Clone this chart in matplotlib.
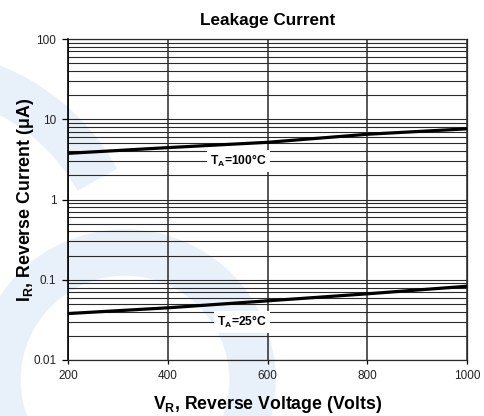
import matplotlib

matplotlib.use("Agg")
import matplotlib.pyplot as plt
from matplotlib.patches import Wedge
from matplotlib.ticker import FixedLocator, LogLocator, NullFormatter

plt.rcParams["font.family"] = ["Liberation Sans", "DejaVu Sans"]
plt.rcParams["mathtext.fontset"] = "custom"
plt.rcParams["mathtext.rm"] = "Liberation Sans"
plt.rcParams["mathtext.bf"] = "Liberation Sans:bold"

# Values (reverse voltage in volts, current in uA)
voltage = [200, 400, 600, 800, 1000]
current_100c = [3.76, 4.43, 5.16, 6.5, 7.6]
current_25c = [0.0379, 0.0447, 0.0546, 0.0668, 0.083]
x_ticks = [200, 400, 600, 800, 1000]
y_ticks = [0.01, 0.1, 1, 10, 100]
y_tick_labels = ["0.01", "0.1", "1", "10", "100"]

W, H = 484, 416
fig = plt.figure(figsize=(W / 100, H / 100), dpi=100, facecolor="white")

# light blue watermark behind the chart (inches, y up)
wm = "#e8f1f9"
fig.patches.append(Wedge((-0.85, 1.36), 2.30, 29, 130, width=0.44,
                         transform=fig.dpi_scale_trans, color=wm, zorder=-5))
fig.patches.append(Wedge((1.25, 0.36), 1.50, 0, 360, width=0.45,
                         transform=fig.dpi_scale_trans, color=wm, zorder=-5))

ax = fig.add_axes([68 / W, 1 - 360 / H, (467 - 68) / W, (360 - 39) / H])
ax.set_zorder(1)
ax.patch.set_alpha(0)
ax.set_xlim(200, 1000)
ax.set_yscale("log")
ax.set_ylim(0.01, 100)

ax.plot(voltage, current_100c, color="black", lw=2.3, solid_capstyle="butt", zorder=3)
ax.plot(voltage, current_25c, color="black", lw=2.3, solid_capstyle="butt", zorder=3)

ax.xaxis.set_major_locator(FixedLocator(x_ticks))
ax.yaxis.set_major_locator(FixedLocator(y_ticks))
ax.set_yticklabels(y_tick_labels)
ax.yaxis.set_minor_locator(LogLocator(base=10, subs=range(2, 10)))
ax.yaxis.set_minor_formatter(NullFormatter())

ax.grid(True, which="major", axis="x", color="#2a2a2a", lw=1.1)
ax.grid(True, which="both", axis="y", color="#2a2a2a", lw=0.8)
ax.tick_params(axis="y", which="major", length=4.5, width=0.9, pad=4,
               labelsize=8.5, color="black", labelcolor="#222")
ax.tick_params(axis="y", which="minor", length=0)
ax.tick_params(axis="x", length=3, width=0.9, pad=4.5, labelsize=8.5,
               color="black", labelcolor="#222")
for side in ("top", "right", "bottom"):
    ax.spines[side].set_color("#2a2a2a")
    ax.spines[side].set_linewidth(0.9)
ax.spines["left"].set_color("black")
ax.spines["left"].set_linewidth(1.2)

box = dict(boxstyle="square,pad=0.25", fc="white", ec="none")
ax.text(598, 3, r"T$\mathbf{_A}$=100°C", ha="right", va="center",
        fontsize=8.7, fontweight="bold", bbox=box, zorder=4)
ax.text(598, 0.03, r"T$\mathbf{_A}$=25°C", ha="right", va="center",
        fontsize=8.7, fontweight="bold", bbox=box, zorder=4)

ax.set_title("Leakage Current", fontsize=12.3, fontweight="bold", pad=10)
ax.set_xlabel(r"V$\mathbf{_R}$, Reverse Voltage (Volts)", fontsize=12.7,
              fontweight="bold", labelpad=8)
ax.set_ylabel(r"I$\mathbf{_R}$, Reverse Current (μA)", fontsize=12.8,
              fontweight="bold", labelpad=-2)

fig.savefig("out.png", dpi=100, facecolor="white")
